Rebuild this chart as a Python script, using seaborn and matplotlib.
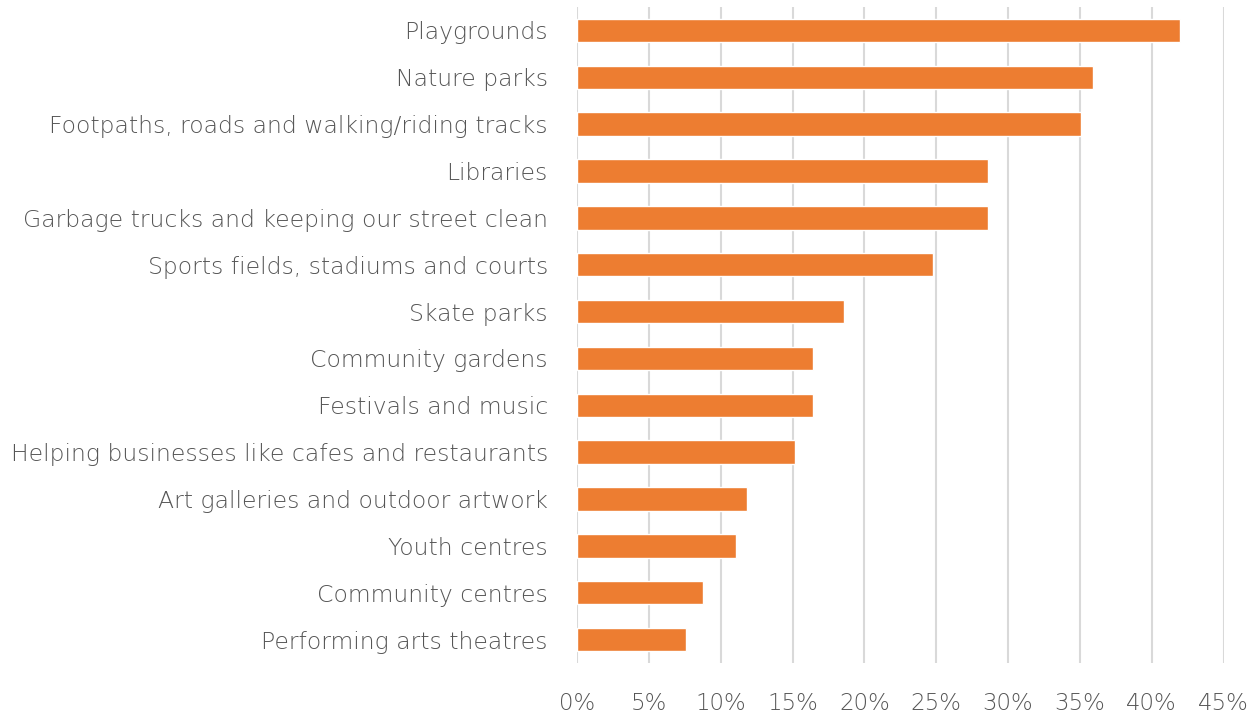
import numpy as np
import pandas as pd
import seaborn as sns
import matplotlib.pyplot as plt
from matplotlib.ticker import PercentFormatter

sns.set_style("white")
plt.rcParams['font.family'] = ['DejaVu Sans']

categories = ['Playgrounds', 'Nature parks', 'Footpaths, roads and walking/riding tracks',
              'Libraries', 'Garbage trucks and keeping our street clean',
              'Sports fields, stadiums and courts', 'Skate parks', 'Community gardens',
              'Festivals and music', 'Helping businesses like cafes and restaurants',
              'Art galleries and outdoor artwork', 'Youth centres', 'Community centres',
              'Performing arts theatres']
values = [42.0, 35.9, 35.1, 28.6, 28.6, 24.8, 18.6, 16.4, 16.4, 15.2, 11.8, 11.1, 8.8, 7.6]
x_ticks = [0, 5, 10, 15, 20, 25, 30, 35, 40, 45]

d = pd.DataFrame({'category': categories, 'value': values})

fig = plt.figure(figsize=(12.59, 7.17), dpi=100)
ax = fig.add_axes([577 / 1259, 1 - 663 / 717, (1223.5 - 577) / 1259, (663 - 7) / 717])

sns.barplot(data=d, x='value', y='category', color='#ED7D31', width=0.5,
            saturation=1, ax=ax, zorder=3)

ax.set_xlim(0, 45)
ax.set_ylim(13.5, -0.5)
ax.set_xticks(x_ticks)
ax.xaxis.set_major_formatter(PercentFormatter(decimals=0))
ax.grid(axis='x', color='#d9d9d9', linewidth=1.5, zorder=0)
for s in ax.spines.values():
    s.set_visible(False)
ax.set_xlabel('')
ax.set_ylabel('')
ax.tick_params(axis='both', length=0, labelsize=16.9, labelcolor='#595959')
ax.tick_params(axis='x', labelsize=16.5, pad=21)
ax.tick_params(axis='y', pad=21)
for t in ax.get_xticklabels() + ax.get_yticklabels():
    t.set_fontweight('light')
    t.set_color('#555555')

fig.savefig('out.png', dpi=100)
